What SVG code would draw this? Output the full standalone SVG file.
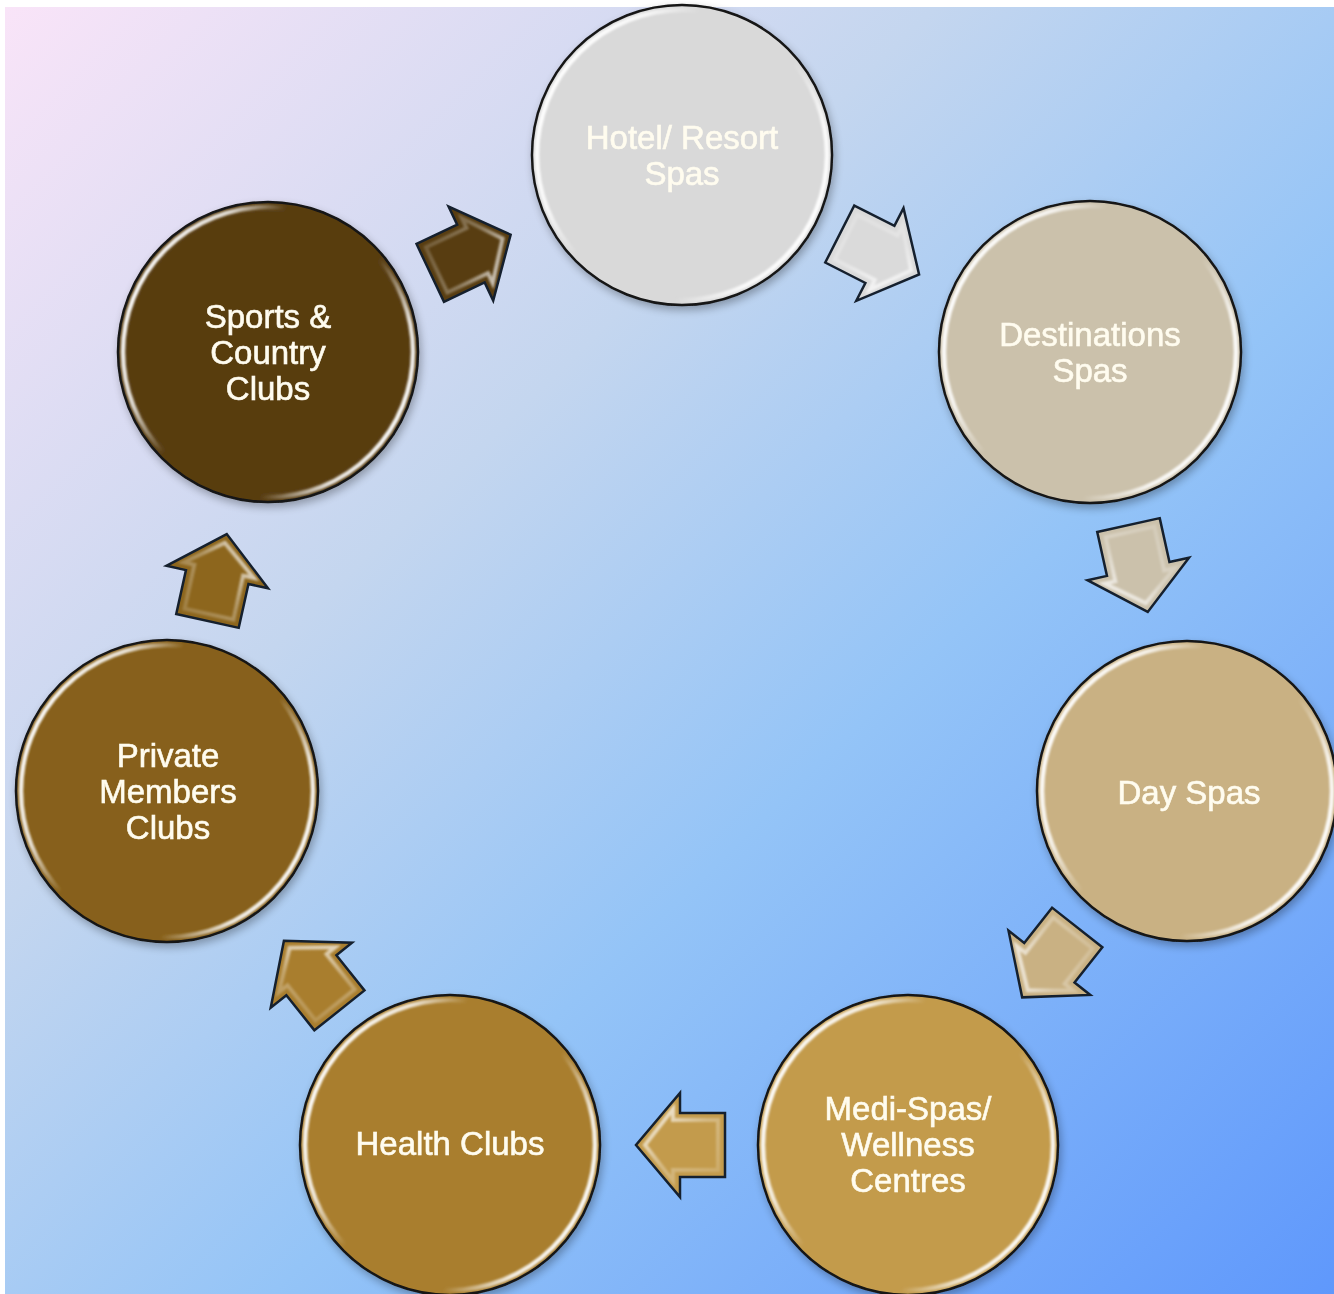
<svg xmlns="http://www.w3.org/2000/svg" width="1334" height="1294" viewBox="0 0 1334 1294">
<defs>
<linearGradient id="bg" x1="0" y1="0" x2="1" y2="1">
<stop offset="0" stop-color="#f9e4f8"/>
<stop offset="0.35" stop-color="#c4d6ef"/>
<stop offset="0.6" stop-color="#94c4f7"/>
<stop offset="1" stop-color="#5f98fc"/>
</linearGradient>
<linearGradient id="rim" x1="0" y1="0.25" x2="1" y2="0.75">
<stop offset="0" stop-color="#ffffff" stop-opacity="1"/>
<stop offset="0.2" stop-color="#ffffff" stop-opacity="0.8"/>
<stop offset="0.35" stop-color="#ffffff" stop-opacity="0"/>
<stop offset="0.68" stop-color="#ffffff" stop-opacity="0"/>
<stop offset="0.85" stop-color="#ffffff" stop-opacity="0.85"/>
<stop offset="1" stop-color="#ffffff" stop-opacity="1"/>
</linearGradient>
<linearGradient id="bevel" x1="0" y1="0" x2="1" y2="1">
<stop offset="0" stop-color="#ffffff" stop-opacity="0.15"/>
<stop offset="0.5" stop-color="#ffffff" stop-opacity="0.3"/>
<stop offset="1" stop-color="#ffffff" stop-opacity="0.9"/>
</linearGradient>
<filter id="soft" x="-10%" y="-10%" width="120%" height="120%">
<feGaussianBlur stdDeviation="1.2"/>
</filter>
<filter id="shadow" x="-20%" y="-20%" width="140%" height="140%">
<feGaussianBlur in="SourceAlpha" stdDeviation="4"/>
<feOffset dx="2" dy="4"/>
<feComponentTransfer><feFuncA type="linear" slope="0.3"/></feComponentTransfer>
<feMerge><feMergeNode/><feMergeNode in="SourceGraphic"/></feMerge>
</filter>
<polygon id="arrowShape" points="-44,-32 1,-32 1,-52 45,0 1,52 1,32 -44,32"/>
</defs>
<style>
.disc{stroke:#141414;stroke-width:2.5}
.rim{fill:none;stroke:url(#rim);stroke-width:4.5}
.lbl{font-family:"Liberation Sans",Arial,sans-serif;font-size:33px;fill:#fffcef;stroke:#fffcef;stroke-width:0.6;text-anchor:middle}
.arr{stroke:#15202e;stroke-width:2.5;stroke-linejoin:miter}
.bev{fill:none;stroke:url(#bevel);stroke-width:4}
</style>
<rect x="0" y="0" width="1334" height="1294" fill="#ffffff"/>
<rect x="5" y="7" width="1329" height="1287" fill="url(#bg)"/>

<g id="connectors">
<g transform="translate(470,254) rotate(-25.4)"><use href="#arrowShape" class="arr" fill="#583d11"/><polygon points="-37,-25 8,-25 8,-36 36,0 8,36 8,25 -37,25" class="bev" filter="url(#soft)"/></g>
<g transform="translate(879,254) rotate(27)"><use href="#arrowShape" class="arr" fill="#dadada"/><polygon points="-37,-25 8,-25 8,-36 36,0 8,36 8,25 -37,25" class="bev" filter="url(#soft)"/></g>
<g transform="translate(1138,568) rotate(77.5)"><use href="#arrowShape" class="arr" fill="#cbc1ab"/><polygon points="-37,-25 8,-25 8,-36 36,0 8,36 8,25 -37,25" class="bev" filter="url(#soft)"/></g>
<g transform="translate(1050,962) rotate(128.2)"><use href="#arrowShape" class="arr" fill="#c9b183"/><polygon points="-37,-25 8,-25 8,-36 36,0 8,36 8,25 -37,25" class="bev" filter="url(#soft)"/></g>
<g transform="translate(681,1145) rotate(180)"><use href="#arrowShape" class="arr" fill="#c39b4c"/><polygon points="-37,-25 8,-25 8,-36 36,0 8,36 8,25 -37,25" class="bev" filter="url(#soft)"/></g>
<g transform="translate(312,976) rotate(-128.6)"><use href="#arrowShape" class="arr" fill="#a97e2e"/><polygon points="-37,-25 8,-25 8,-36 36,0 8,36 8,25 -37,25" class="bev" filter="url(#soft)"/></g>
<g transform="translate(217,578) rotate(-77.5)"><use href="#arrowShape" class="arr" fill="#8d661d"/><polygon points="-37,-25 8,-25 8,-36 36,0 8,36 8,25 -37,25" class="bev" filter="url(#soft)"/></g>
</g>

<g id="node-hotel" filter="url(#shadow)">
<circle cx="682" cy="155" r="150" class="disc" fill="#d9d9d9"/>
<circle cx="682" cy="155" r="145" class="rim" filter="url(#soft)"/>
<text class="lbl" x="682" y="149">Hotel/ Resort</text>
<text class="lbl" x="682" y="185">Spas</text>
</g>
<g id="node-destinations" filter="url(#shadow)">
<circle cx="1090" cy="352" r="151" class="disc" fill="#cbc1ab"/>
<circle cx="1090" cy="352" r="146" class="rim" filter="url(#soft)"/>
<text class="lbl" x="1090" y="346">Destinations</text>
<text class="lbl" x="1090" y="382">Spas</text>
</g>
<g id="node-dayspas" filter="url(#shadow)">
<circle cx="1187" cy="791" r="150" class="disc" fill="#c9b183"/>
<circle cx="1187" cy="791" r="145" class="rim" filter="url(#soft)"/>
<text class="lbl" x="1189" y="804">Day Spas</text>
</g>
<g id="node-medispas" filter="url(#shadow)">
<circle cx="908" cy="1145" r="150" class="disc" fill="#c39b4c"/>
<circle cx="908" cy="1145" r="145" class="rim" filter="url(#soft)"/>
<text class="lbl" x="908" y="1120">Medi-Spas/</text>
<text class="lbl" x="908" y="1156">Wellness</text>
<text class="lbl" x="908" y="1192">Centres</text>
</g>
<g id="node-health" filter="url(#shadow)">
<circle cx="450" cy="1145" r="150" class="disc" fill="#a97e2e"/>
<circle cx="450" cy="1145" r="145" class="rim" filter="url(#soft)"/>
<text class="lbl" x="450" y="1155">Health Clubs</text>
</g>
<g id="node-private" filter="url(#shadow)">
<circle cx="167" cy="791" r="151" class="disc" fill="#87601a"/>
<circle cx="167" cy="791" r="146" class="rim" filter="url(#soft)"/>
<text class="lbl" x="168" y="767">Private</text>
<text class="lbl" x="168" y="803">Members</text>
<text class="lbl" x="168" y="839">Clubs</text>
</g>
<g id="node-sports" filter="url(#shadow)">
<circle cx="268" cy="352" r="150" class="disc" fill="#583d11"/>
<circle cx="268" cy="352" r="145" class="rim" filter="url(#soft)"/>
<text class="lbl" x="268" y="328">Sports &amp;</text>
<text class="lbl" x="268" y="364">Country</text>
<text class="lbl" x="268" y="400">Clubs</text>
</g>
</svg>
